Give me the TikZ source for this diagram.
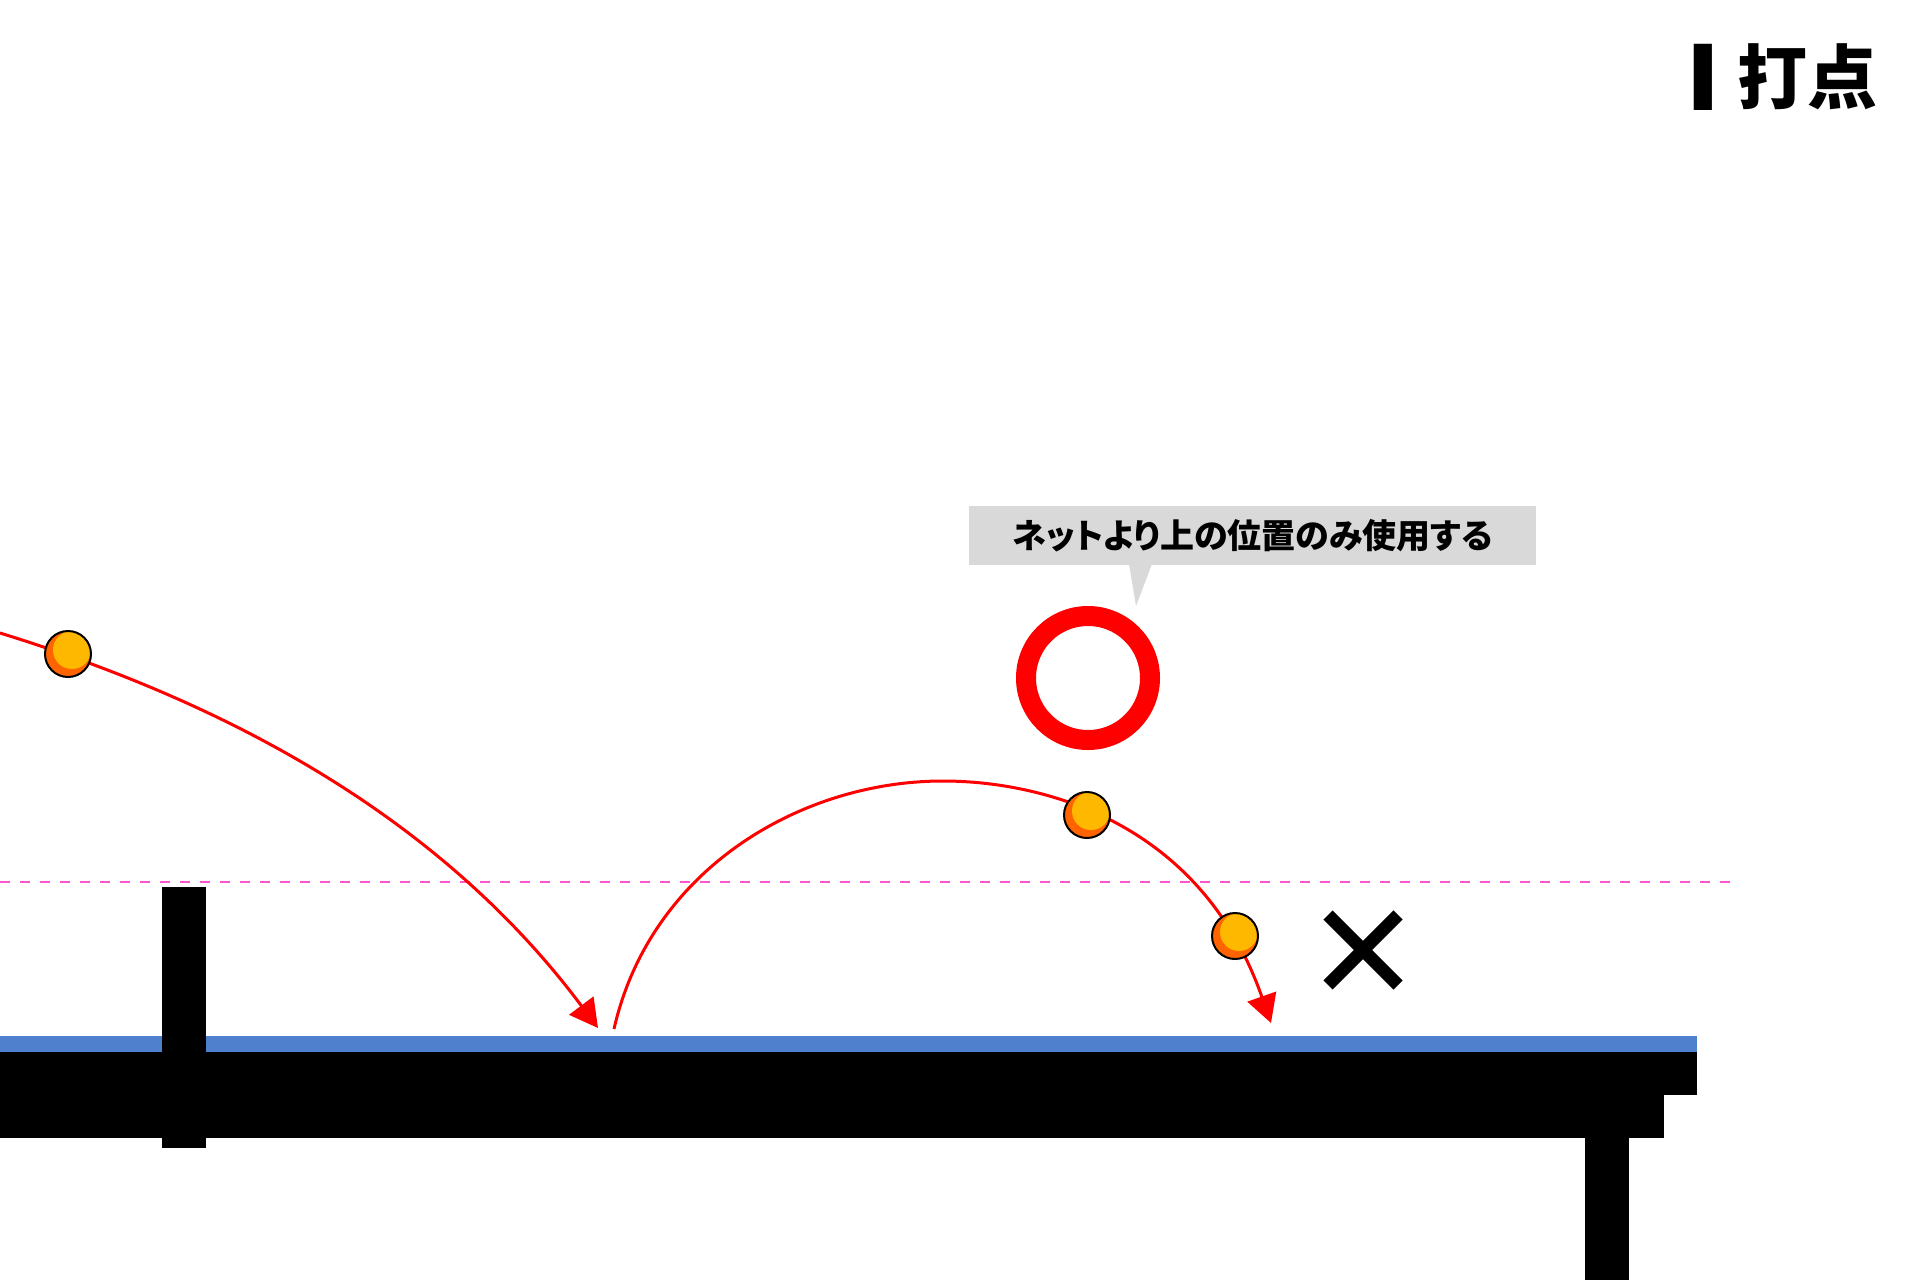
\documentclass[tikz,border=0pt]{standalone}
\usepackage{fontspec}
\usetikzlibrary{arrows.meta}
\newfontfamily\jp[RawFeature=+palt]{Noto Sans CJK JP}
\definecolor{tblue}{RGB}{78,128,206}
\definecolor{ballor}{RGB}{255,100,0}
\definecolor{ballye}{RGB}{255,184,0}
\definecolor{dashpink}{RGB}{255,85,205}
\definecolor{callgray}{RGB}{217,217,217}
\definecolor{tred}{RGB}{255,0,0}
\tikzset{
  ball/.style={circle, inner sep=0pt, minimum size=46pt, fill=ballor, draw=black, line width=2pt,
    path picture={\fill[ballye] ([shift={(4,-4)}]path picture bounding box.center) circle (19);}},
  traj/.style={draw=tred, line width=3pt, -{Triangle[length=28pt,width=30pt]}},
}
\begin{document}
\begin{tikzpicture}[x=1pt,y=-1pt]
\useasboundingbox (0,0) rectangle (1920,1280);
\fill[white] (0,0) rectangle (1920,1280);

% title
\node[font=\jp\bfseries\fontsize{70}{70}\selectfont, inner sep=0pt] (titlebar) at (1703.5,77) {\scalebox{1.45}[1.27]{I}};
\node[font=\jp\bfseries\fontsize{70}{70}\selectfont, inner sep=0pt, anchor=west] (title) at (1737,77) {打点};

% dashed net-height line
\coordinate (dl) at (0,882);
\coordinate (dr) at (1735,882);
\draw[dashpink, line width=2.5pt, dash pattern=on 10pt off 10pt] (dl) -- (dr);

% table
\fill[tblue] (0,1036) rectangle (1697,1052);
\fill[black] (0,1052) rectangle (1697,1095);
\fill[black] (0,1095) rectangle (1664,1138);
\fill[black] (1585,1138) rectangle (1629,1280);
% net post
\fill[black] (162,887) rectangle (206,1148);

% trajectories
\coordinate (s1) at (0,633);
\coordinate (e1) at (598,1028);
\draw[traj] (s1) .. controls (250,710) and (450,830) .. (e1);
\coordinate (s2) at (614,1029);
\coordinate (p2) at (943,781);
\coordinate (e2) at (1271,1023);
\draw[traj] (s2) .. controls (650,870) and (800,781) .. (p2) .. controls (1040,781) and (1200,820) .. (e2);

% balls
\node[ball] (b1) at (68,654) {};
\node[ball] (b2) at (1087,815) {};
\node[ball] (b3) at (1235,936) {};

% OK ring
\node[circle, draw=tred, line width=20pt, minimum size=124pt, inner sep=0pt] (ring) at (1088,678) {};

% NG cross
\coordinate (xc) at (1363,950);
\draw[black, line width=13pt] ([shift={(-35,-35)}]xc) -- ([shift={(35,35)}]xc);
\draw[black, line width=13pt] ([shift={(-35,35)}]xc) -- ([shift={(35,-35)}]xc);

% callout
\node[fill=callgray, minimum width=567pt, minimum height=59pt, inner sep=0pt,
      font=\jp\bfseries\fontsize{34}{34}\selectfont] (call) at (1252.5,535.5) {ネットより上の位置のみ使用する};
\fill[callgray] (1129,564) -- (1152,564) -- (1136,606) -- cycle;
\end{tikzpicture}
\end{document}
